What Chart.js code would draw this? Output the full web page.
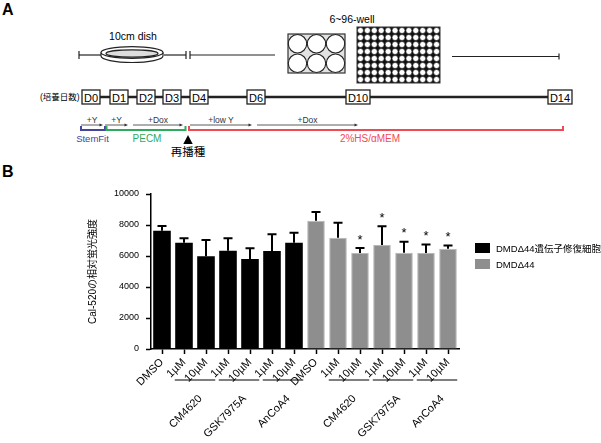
<!DOCTYPE html>
<html>
<head>
<meta charset="utf-8">
<script src="https://cdn.jsdelivr.net/npm/chart.js@4/dist/chart.umd.min.js"></script>
<style>
  html, body { margin: 0; padding: 0; background: #fff; }
  body { width: 601px; height: 443px; position: relative; overflow: hidden;
         font-family: 'Liberation Sans', 'Noto Sans CJK JP', sans-serif; }
  #panelA { position: absolute; left: 0; top: 0; }
  #wrapB { position: absolute; left: 0; top: 160px; width: 601px; height: 283px; }
  #legend { position: absolute; left: 475px; top: 243px; font-size: 9.5px; color: #000; }
  #legend .item { display: flex; align-items: center; height: 10px; margin-bottom: 6px; white-space: nowrap; }
  #legend .box { width: 15px; height: 10px; margin-right: 6px; box-sizing: border-box; }
</style>
</head>
<body>
<svg id="panelA" width="601" height="443" xmlns="http://www.w3.org/2000/svg"
     font-family="'Liberation Sans', 'Noto Sans CJK JP', sans-serif">
  <text x="2" y="15" font-size="16" font-weight="bold">A</text>
  <text x="2" y="177" font-size="16" font-weight="bold">B</text>

  <!-- culture vessel line -->
  <g stroke="#222" stroke-width="1.2" fill="none">
    <line x1="79" y1="51" x2="79" y2="59"/>
    <line x1="79" y1="55" x2="101" y2="55"/>
    <line x1="164" y1="55" x2="186" y2="55"/>
    <line x1="186" y1="51" x2="186" y2="59"/>
    <line x1="190" y1="51" x2="190" y2="59"/>
    <line x1="190" y1="55" x2="275" y2="55"/>
    <line x1="452" y1="56.5" x2="559" y2="56.5"/>
    <line x1="559" y1="53.5" x2="559" y2="59.5"/>
  </g>
  <text x="133" y="40" font-size="10.5" text-anchor="middle">10cm dish</text>
  <g stroke="#222" stroke-width="1.2">
    <path d="M101 52.5 L101 56 A31 6.5 0 0 0 163 56 L163 52.5" fill="#fff"/>
    <ellipse cx="132" cy="52.5" rx="31" ry="5.8" fill="#fff"/>
    <ellipse cx="132" cy="53.5" rx="26" ry="3.6" fill="#ddd"/>
  </g>
  <text x="352" y="23" font-size="10.5" text-anchor="middle">6~96-well</text>
  <rect x="288" y="34" width="57" height="39" fill="#e2e2e2" stroke="#333" stroke-width="1.2"/>
  <g id="six" fill="#fff" stroke="#222" stroke-width="1.1"></g>
  <rect x="357" y="27" width="83" height="56" fill="#111" stroke="#333" stroke-width="1"/>
  <g id="ninetysix" fill="#fff" stroke="#111" stroke-width="0.6"></g>

  <!-- day row -->
  <text x="40" y="99.5" font-size="8.5">(培養日数)</text>
  <line x1="91" y1="97" x2="560" y2="97" stroke="#222" stroke-width="2.5"/>
  <g id="days"></g>

  <!-- treatment arrows -->
  <g id="arrows"></g>

  <!-- media brackets -->
  <g fill="none" stroke-width="2">
    <path d="M81 126 L81 130 L105 130 L105 126" stroke="#45459e"/>
    <path d="M106.5 126 L106.5 130 L185.5 130 L185.5 126" stroke="#2eaa5c"/>
    <path d="M189 126 L189 130 L563 130 L563 126" stroke="#f04b55"/>
  </g>
  <text x="92.5" y="141.5" font-size="9.5" text-anchor="middle" fill="#45459e">StemFit</text>
  <text x="147" y="141.5" font-size="10" text-anchor="middle" fill="#2eaa5c">PECM</text>
  <text x="370" y="141.5" font-size="10" text-anchor="middle" fill="#f04b55">2%HS/αMEM</text>
  <path d="M188 135 L192.7 144 L183.3 144 Z" fill="#000"/>
  <text x="188" y="156" font-size="11.5" text-anchor="middle">再播種</text>
</svg>

<div id="wrapB"><canvas id="chartB"></canvas></div>
<div id="legend"></div>

<script>
// ---- data ----
const categories = ['DMSO', '1µM', '10µM', '1µM', '10µM', '1µM', '10µM',
                    'DMSO', '1µM', '10µM', '1µM', '10µM', '1µM', '10µM'];
const seriesLabels = ['DMDΔ44遺伝子修復細胞', 'DMDΔ44'];
const repairedMean = [7630, 6860, 5980, 6340, 5810, 6320, 6860];
const repairedErr = [300, 280, 1050, 800, 690, 1080, 640];
const dmdMean = [8280, 7180, 6190, 6710, 6210, 6190, 6470];
const dmdErr = [560, 970, 330, 1210, 710, 560, 200];
const dmdStar = [false, false, true, true, true, true, true];
const drugNames = ['CM4620', 'GSK7975A', 'AnCoA4'];
const yTicks = [0, 2000, 4000, 6000, 8000, 10000];

const dayLabels = ['D0', 'D1', 'D2', 'D3', 'D4', 'D6', 'D10', 'D14'];
const treatLabels = ['+Y', '+Y', '+Dox', '+low Y', '+Dox'];

// ---- panel A drawing helpers (illustration only) ----
const NS = 'http://www.w3.org/2000/svg';
function el(parent, tag, attrs, text) {
  const e = document.createElementNS(NS, tag);
  for (const k in attrs) e.setAttribute(k, attrs[k]);
  if (text) e.textContent = text;
  parent.appendChild(e);
  return e;
}
const six = document.getElementById('six');
[297.5, 316.5, 335.5].forEach(cx => [43.75, 63.25].forEach(cy =>
  el(six, 'circle', {cx, cy, r: 9.2})));
const n96 = document.getElementById('ninetysix');
for (let i = 0; i < 12; i++) for (let j = 0; j < 8; j++)
  el(n96, 'circle', {cx: 357 + 83 / 12 * (i + 0.5), cy: 27 + 7 * (j + 0.5), r: 3.0});

const dayBoxes = [[82, 100], [110, 128], [137, 155], [163, 181], [190, 208], [247, 265], [346, 370], [548, 572]];
const days = document.getElementById('days');
dayBoxes.forEach(([a, b], i) => {
  el(days, 'rect', {x: a, y: 90, width: b - a, height: 14, fill: '#fff', stroke: '#222', 'stroke-width': 1.3});
  el(days, 'text', {x: (a + b) / 2, y: 101.5, 'font-size': 11, 'text-anchor': 'middle'}, dayLabels[i]);
});

const arrowSpans = [[81, 103], [105, 128], [133, 183], [190, 252], [257, 358]];
const arrows = document.getElementById('arrows');
arrowSpans.forEach(([a, b], i) => {
  el(arrows, 'line', {x1: a, y1: 125, x2: b - 2, y2: 125, stroke: '#333', 'stroke-width': 0.8});
  el(arrows, 'path', {d: `M${b} 125 L${b - 3.5} 123.4 L${b - 3.5} 126.6 Z`, fill: '#333'});
  el(arrows, 'text', {x: (a + b) / 2, y: 122.5, 'font-size': 8.5, 'text-anchor': 'middle', fill: '#333'}, treatLabels[i]);
});

// ---- panel B ----
const FONT = "'Liberation Sans', 'Noto Sans CJK JP', sans-serif";
const blanks = Array(7).fill(null);
const datasets = [
  { label: seriesLabels[0], data: repairedMean.concat(blanks), errors: repairedErr.concat(blanks),
    stars: blanks.concat(blanks), backgroundColor: '#000', borderColor: '#000', borderWidth: 0 },
  { label: seriesLabels[1], data: blanks.concat(dmdMean), errors: blanks.concat(dmdErr),
    stars: blanks.concat(dmdStar), backgroundColor: '#8e8e8e', borderColor: '#b8b8b8', borderWidth: 1 }
];

const groups = [];
[0, 7].forEach(base => drugNames.forEach((name, d) =>
  groups.push({ name, from: base + 1 + 2 * d, to: base + 2 + 2 * d })));

const extras = {
  id: 'extras',
  afterDatasetsDraw(chart) {
    const { ctx, scales: { y } } = chart;
    ctx.save();
    ctx.strokeStyle = '#000';
    ctx.fillStyle = '#000';
    ctx.lineWidth = 2;
    ctx.font = '13px ' + FONT;
    ctx.textAlign = 'center';
    ctx.textBaseline = 'middle';
    chart.data.datasets.forEach((ds, di) => {
      chart.getDatasetMeta(di).data.forEach((bar, i) => {
        const v = ds.data[i];
        if (v == null) return;
        const top = y.getPixelForValue(v + ds.errors[i]);
        ctx.beginPath();
        ctx.moveTo(bar.x, bar.y);
        ctx.lineTo(bar.x, top);
        ctx.moveTo(bar.x - 4.5, top);
        ctx.lineTo(bar.x + 4.5, top);
        ctx.stroke();
        if (ds.stars[i]) ctx.fillText('*', bar.x, top - 8);
      });
    });
    ctx.restore();
  },
  afterDraw(chart) {
    const { ctx, scales: { x } } = chart;
    const half = x.width / categories.length * 0.42;
    ctx.save();
    ctx.strokeStyle = '#000';
    ctx.fillStyle = '#000';
    ctx.lineWidth = 1.2;
    ctx.font = '11px ' + FONT;
    ctx.textAlign = 'right';
    ctx.textBaseline = 'middle';
    groups.forEach(g => {
      const x1 = x.getPixelForValue(g.from) - half;
      const x2 = x.getPixelForValue(g.to) + half;
      const ly = 220;
      ctx.beginPath();
      ctx.moveTo(x1, ly);
      ctx.lineTo(x2, ly);
      ctx.stroke();
      ctx.save();
      ctx.translate((x1 + x2) / 2 + 5.5, ly + 17);
      ctx.rotate(-Math.PI / 4);
      ctx.fillText(g.name, 0, 0);
      ctx.restore();
    });
    ctx.restore();
  }
};

const chart = new Chart(document.getElementById('chartB'), {
  type: 'bar',
  data: { labels: categories, datasets },
  options: {
    responsive: true,
    maintainAspectRatio: false,
    animation: false,
    layout: { padding: { left: 83, right: 142, top: 34, bottom: 0 } },
    datasets: { bar: { grouped: false, barPercentage: 0.8, categoryPercentage: 1 } },
    plugins: { legend: { display: false }, tooltip: { enabled: false } },
    scales: {
      x: {
        grid: { drawOnChartArea: false, offset: false, tickLength: 5, tickWidth: 1.5, tickColor: '#000' },
        border: { color: '#000', width: 1.5 },
        ticks: { color: '#000', font: { size: 11, family: FONT }, minRotation: 45, maxRotation: 45,
                 autoSkip: false, padding: 2 },
        afterFit: s => { s.height = 94; }
      },
      y: {
        min: 0, max: 10000,
        afterBuildTicks: s => { s.ticks = yTicks.map(v => ({ value: v })); },
        grid: { drawOnChartArea: false, tickLength: 5, tickWidth: 1.5, tickColor: '#000' },
        border: { color: '#000', width: 1.5 },
        ticks: { color: '#000', font: { size: 9, family: FONT }, padding: 7, callback: v => String(v) },
        title: { display: true, text: 'Cal-520の相対蛍光強度', color: '#000',
                 font: { size: 10, family: FONT }, padding: 4 },
        afterFit: s => { s.width = 68; }
      }
    }
  },
  plugins: [extras]
});

// legend built from the chart's datasets
const legend = document.getElementById('legend');
chart.data.datasets.forEach(ds => {
  const item = document.createElement('div');
  item.className = 'item';
  const box = document.createElement('span');
  box.className = 'box';
  box.style.background = ds.backgroundColor;
  const txt = document.createElement('span');
  txt.textContent = ds.label;
  item.appendChild(box);
  item.appendChild(txt);
  legend.appendChild(item);
});
</script>
</body>
</html>
